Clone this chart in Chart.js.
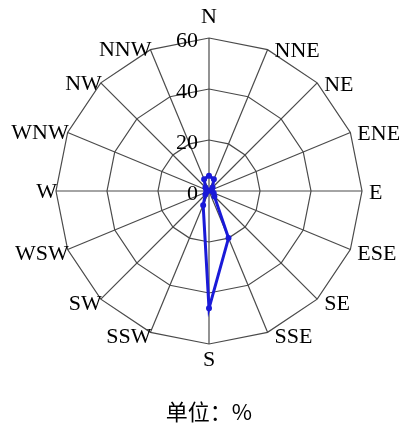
<!DOCTYPE html>
<html>
<head>
<meta charset="utf-8">
<script src="https://cdn.jsdelivr.net/npm/chart.js@4"></script>
<style>
  html, body { margin: 0; padding: 0; background: #fff; }
  #wrap { width: 415px; height: 426px; }
</style>
</head>
<body>
<div id="wrap"><canvas id="rosa"></canvas></div>
<script>
// direcoes e frequencia do vento (%)
const direcoes = ['N', 'NNE', 'NE', 'ENE', 'E', 'ESE', 'SE', 'SSE', 'S', 'SSW', 'SW', 'WSW', 'W', 'WNW', 'NW', 'NNW'];
const frequencias = [6, 5, 2, 1, 1, 2, 3, 20, 46, 6, 2, 1, 1, 1, 2, 5];
const marcas = [0, 20, 40, 60];
const unidade = '单位：%';

const fonteSerif = '"Liberation Serif", "Times New Roman", serif';

// numeros da escala a esquerda do eixo N + rotulos das direcoes junto aos vertices
const rotulos = {
  id: 'rotulos',
  afterDatasetsDraw(chart) {
    const r = chart.scales.r;
    const ctx = chart.ctx;
    ctx.save();
    ctx.fillStyle = '#000';

    ctx.font = '22px ' + fonteSerif;
    ctx.textAlign = 'right';
    ctx.textBaseline = 'middle';
    marcas.forEach((v) => {
      const d = r.getDistanceFromCenterForValue(v);
      ctx.fillText(String(v), r.xCenter - 11, r.yCenter - d + 3);
    });

    const n = direcoes.length;
    direcoes.forEach((nome, i) => {
      const p = r.getPointPosition(i, r.drawingArea);
      let x = p.x, y = p.y;
      ctx.textBaseline = 'middle';
      if (i === 0) {
        ctx.textAlign = 'center'; y -= 21;
      } else if (i === n / 2) {
        ctx.textAlign = 'center'; y += 16;
      } else if (i < n / 2) {
        ctx.textAlign = 'left'; x += 7;
        y += (i > n / 4) ? 5 : 2;
      } else {
        ctx.textAlign = 'right'; x += 1;
        y += (i < 3 * n / 4) ? 5 : 1;
      }
      ctx.fillText(nome, x, y);
    });
    ctx.restore();
  }
};

new Chart(document.getElementById('rosa'), {
  type: 'radar',
  data: {
    labels: direcoes,
    datasets: [{
      data: frequencias,
      borderColor: '#1a1ad8',
      backgroundColor: '#1a1ad8',
      borderWidth: 3,
      pointRadius: 1.5,
      fill: false
    }]
  },
  options: {
    responsive: true,
    maintainAspectRatio: false,
    animation: false,
    layout: { padding: { left: 55, right: 52, top: 38, bottom: 1 } },
    plugins: {
      legend: { display: false },
      tooltip: { enabled: false },
      title: {
        display: true,
        position: 'bottom',
        text: unidade,
        color: '#000',
        font: { family: '"Noto Sans CJK SC", sans-serif', size: 22, weight: 'normal', lineHeight: 1.2 },
        padding: { top: 53, bottom: 0 }
      }
    },
    scales: {
      r: {
        min: 0,
        max: 60,
        startAngle: 0,
        afterBuildTicks: (s) => { s.ticks = marcas.map((v) => ({ value: v })); },
        ticks: { display: false },
        grid: { color: '#4a4a4a', lineWidth: 1.2, circular: false },
        angleLines: { color: '#4a4a4a', lineWidth: 1.2 },
        pointLabels: { display: false }
      }
    }
  },
  plugins: [rotulos]
});
</script>
</body>
</html>
